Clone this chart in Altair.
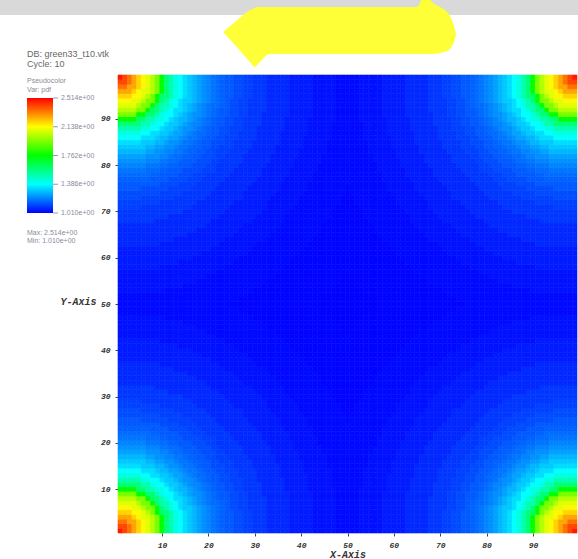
import numpy as np
import pandas as pd
import altair as alt

# ---- field: 99 x 99 cells, value depends on distance to the nearest corner ----
N_CELLS = 99
profile_dist = [0, 1, 2, 3, 4, 5, 6, 7, 8, 9, 10, 11, 12, 13, 14, 15, 16, 17,
                18, 19, 20, 21, 22, 23, 24, 26, 28, 30, 35, 40, 45, 50, 60, 71]
profile_val = [2.514, 2.506, 2.469, 2.409, 2.318, 2.228, 2.153, 2.063, 1.958,
               1.852, 1.762, 1.672, 1.582, 1.476, 1.386, 1.311, 1.266, 1.228,
               1.190, 1.160, 1.138, 1.115, 1.100, 1.085, 1.075, 1.058, 1.046,
               1.037, 1.025, 1.018, 1.014, 1.012, 1.011, 1.010]

# colour bar
cbar_values = [1.010, 1.386, 1.762, 2.138, 2.514]
cbar_colors = ["#0000ff", "#00ffff", "#00ff00", "#ffff00", "#ff0000"]

x_ticks = [10, 20, 30, 40, 50, 60, 70, 80, 90]
y_ticks = [10, 20, 30, 40, 50, 60, 70, 80, 90]

# header annotation arrow (pixel offsets from the plot origin)
arrow_px = [105, 117, 132, 137, 140, 152, 299, 304, 312, 315, 322, 329, 334, 337, 338]
arrow_top = [-43, -53, -65, -67, -68, -68, -68, -75, -75, -72, -68, -63, -55, -45, -41]
arrow_bottom = [-43, -30, -13, -8, -11, -21, -21, -21, -21, -21, -22, -24, -29, -36, -40]

# ---- build the cell table ----
idx = np.arange(1, N_CELLS + 1)
gx, gy = np.meshgrid(idx, idx)
dx = np.minimum(gx - 0.5, N_CELLS + 0.5 - gx)
dy = np.minimum(gy - 0.5, N_CELLS + 0.5 - gy)
dist = np.hypot(dx, dy)
pd_arr = np.array(profile_dist, dtype=float)
nearest = np.abs(dist[..., None] - pd_arr).argmin(axis=-1)
vals = np.array(profile_val)[nearest]

cells = pd.DataFrame({
    "x0": (gx - 0.5).ravel(), "x1": (gx + 0.5).ravel(),
    "y0": (gy - 0.5).ravel(), "y1": (gy + 0.5).ravel(),
    "v": vals.ravel(),
})
cells["v_edge"] = cells["v"]

mono = "Liberation Mono"
vmin, vmax = cbar_values[0], cbar_values[-1]
xs = alt.Scale(domain=[0.5, 99.5], nice=False, zero=False)
ys = alt.Scale(domain=[0.5, 99.5], nice=False, zero=False)
cscale = alt.Scale(domain=cbar_values, range=cbar_colors)

heat = alt.Chart(cells).mark_rect(strokeWidth=0.6).encode(
    x=alt.X("x0:Q", scale=xs, axis=alt.Axis(
        values=x_ticks, title="X-Axis", grid=False, domain=False,
        tickSize=3, tickColor="#444", labelPadding=5,
        labelFont=mono, labelFontStyle="italic", labelFontWeight="bold",
        labelFontSize=8, labelColor="#333",
        titleFont=mono, titleFontStyle="italic", titleFontWeight="bold",
        titleFontSize=10, titleColor="#333", titlePadding=0)),
    x2="x1:Q",
    y=alt.Y("y0:Q", scale=ys, axis=alt.Axis(
        values=y_ticks, title="Y-Axis", grid=False, domain=False,
        tickSize=3, tickColor="#444", labelPadding=5,
        labelFont=mono, labelFontStyle="italic", labelFontWeight="bold",
        labelFontSize=8, labelColor="#333",
        titleFont=mono, titleFontStyle="italic", titleFontWeight="bold",
        titleFontSize=10, titleColor="#333", titleAngle=0,
        titleAlign="center", titleBaseline="middle", titleX=-40, titleY=226)),
    y2="y1:Q",
    fill=alt.Fill("v:Q", scale=cscale, legend=None),
    stroke=alt.Stroke("v_edge:Q", scale=cscale, legend=None),
)

# ---- colour bar drawn beside the plot, on its own value scale ----
bar_scale = alt.Scale(domain=[vmin, vmax], range=[138, 23], nice=False, zero=False)
bar_gradient = alt.LinearGradient(
    gradient="linear", x1=0, x2=0, y1=1, y2=0,
    stops=[alt.GradientStop(color=c, offset=(v - vmin) / (vmax - vmin))
           for v, c in zip(cbar_values, cbar_colors)])
cbar = alt.Chart(pd.DataFrame({"lo": [vmin], "hi": [vmax]})).mark_rect(
    color=bar_gradient).encode(
    x=alt.value(-91), x2=alt.value(-65),
    y=alt.Y("lo:Q", scale=bar_scale, axis=None), y2="hi:Q")

cbar_df = pd.DataFrame({"v": cbar_values})
cbar_ticks = alt.Chart(cbar_df).mark_rule(color="#9a9aaa", strokeWidth=1).encode(
    x=alt.value(-65), x2=alt.value(-60),
    y=alt.Y("v:Q", scale=bar_scale, axis=None))
cbar_labels = alt.Chart(cbar_df).transform_calculate(
    lab="replace(format(datum.v, '.3e'), 'e+', 'e+0')"
).mark_text(align="left", baseline="middle", font="Liberation Sans",
            fontSize=7, color="#8a8a9a").encode(
    x=alt.value(-57), y=alt.Y("v:Q", scale=bar_scale, axis=None),
    text="lab:N")

# grey header strip
header = alt.Chart(pd.DataFrame({"k": [0]})).mark_rect(color="#d9d9d9").encode(
    x=alt.value(-118), x2=alt.value(460), y=alt.value(-75), y2=alt.value(-60))

arrow_df = pd.DataFrame({"px": arrow_px, "top": arrow_top, "bottom": arrow_bottom})
arrow = alt.Chart(arrow_df).mark_area(color="#ffff38", interpolate="monotone").encode(
    x=alt.X("px:Q", scale=None, axis=None),
    y=alt.Y("top:Q", scale=None, axis=None),
    y2="bottom:Q",
)

info_lines = pd.DataFrame({
    "t": ["DB: green33_t10.vtk", "Cycle: 10"],
    "yy": [-18, -8],
})
info = alt.Chart(info_lines).mark_text(
    align="left", baseline="alphabetic", font="Liberation Sans", fontSize=9,
    color="#686868").encode(
    x=alt.value(-91), y=alt.Y("yy:Q", scale=None, axis=None), text="t:N")

small_lines = pd.DataFrame({
    "t": ["Pseudocolor", "Var: pdf", "Max: 2.514e+00", "Min: 1.010e+00"],
    "yy": [8, 17, 160, 168],
})
small = alt.Chart(small_lines).mark_text(
    align="left", baseline="alphabetic", font="Liberation Sans", fontSize=7,
    color="#8a8a9a").encode(
    x=alt.value(-91), y=alt.Y("yy:Q", scale=None, axis=None), text="t:N")

chart = alt.layer(heat, cbar, cbar_ticks, cbar_labels, header, arrow, info, small
).resolve_scale(
    x="independent", y="independent"
).properties(
    width=459, height=458,
    padding={"left": 118, "top": 75, "right": 1, "bottom": 26},
    autosize=alt.AutoSizeParams(type="none"),
    background="white",
).configure_view(stroke=None)

chart.save("out.html", embed_options={"renderer": "svg", "actions": False})
